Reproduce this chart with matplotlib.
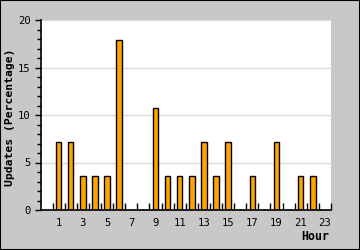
import numpy as np
import matplotlib
matplotlib.use("Agg")
import matplotlib.pyplot as plt
from matplotlib.patches import Rectangle
from matplotlib.ticker import MultipleLocator, FixedLocator

# hourly share of updates (percent), hours 0..23
hours = list(range(24))
updates_pct = [0, 7.14, 7.14, 3.57, 3.57, 3.57, 17.86, 0, 0, 10.71, 3.57, 3.57,
               3.57, 7.14, 3.57, 7.14, 0, 3.57, 0, 7.14, 0, 3.57, 3.57, 0]
tick_hours = list(range(1, 24, 2))

BG = "#c8c8c8"
MONO = "DejaVu Sans Mono"

fig = plt.figure(figsize=(3.6, 2.5), dpi=100, facecolor=BG)
ax = fig.add_axes([40.5 / 360, 40 / 250, 290.5 / 360, 190 / 250])
ax.set_facecolor("white")

ax.bar(hours, updates_pct, width=0.45, color="#ffa500",
       edgecolor="black", linewidth=1.0, zorder=3)

ax.set_xlim(-0.5, 23.5)
ax.set_ylim(0, 20)

# grid
ax.yaxis.set_major_locator(MultipleLocator(5))
ax.yaxis.set_minor_locator(MultipleLocator(1))
ax.grid(axis="y", which="major", color="#dcdcdc", linewidth=1.0, zorder=0)

# x ticks: labels at odd hours, tick marks at category boundaries
ax.set_xticks(tick_hours)
ax.set_xticklabels([str(h) for h in tick_hours])
ax.xaxis.set_minor_locator(FixedLocator(np.arange(0.5, 24, 1)))
ax.tick_params(axis="x", which="major", length=0, pad=6, labelsize=7.6)
ax.tick_params(axis="x", which="minor", direction="in", length=5, width=1)
ax.tick_params(axis="y", which="major", direction="out", length=4, width=1,
               pad=3, labelsize=7.6)
ax.tick_params(axis="y", which="minor", direction="out", length=3, width=1)
for lab in ax.get_xticklabels() + ax.get_yticklabels():
    lab.set_family(MONO)

for s in ["top", "right"]:
    ax.spines[s].set_visible(False)
for s in ["left", "bottom"]:
    ax.spines[s].set_linewidth(1.2)
    ax.spines[s].set_zorder(4)

fig.text(10.5 / 360, 1 - 117 / 250, "Updates (Percentage)", family=MONO,
         fontweight="bold", fontsize=8.2, rotation=90, ha="center", va="center")
fig.text(329 / 360, 1 - 236 / 250, "Hour", family=MONO, fontweight="bold",
         fontsize=8.4, ha="right", va="center")

# outer black frame
fig.patches.append(Rectangle((0, 0), 1, 1, transform=fig.transFigure,
                             fill=False, edgecolor="black", linewidth=1.5))

fig.savefig("out.png", dpi=100, facecolor=BG)
